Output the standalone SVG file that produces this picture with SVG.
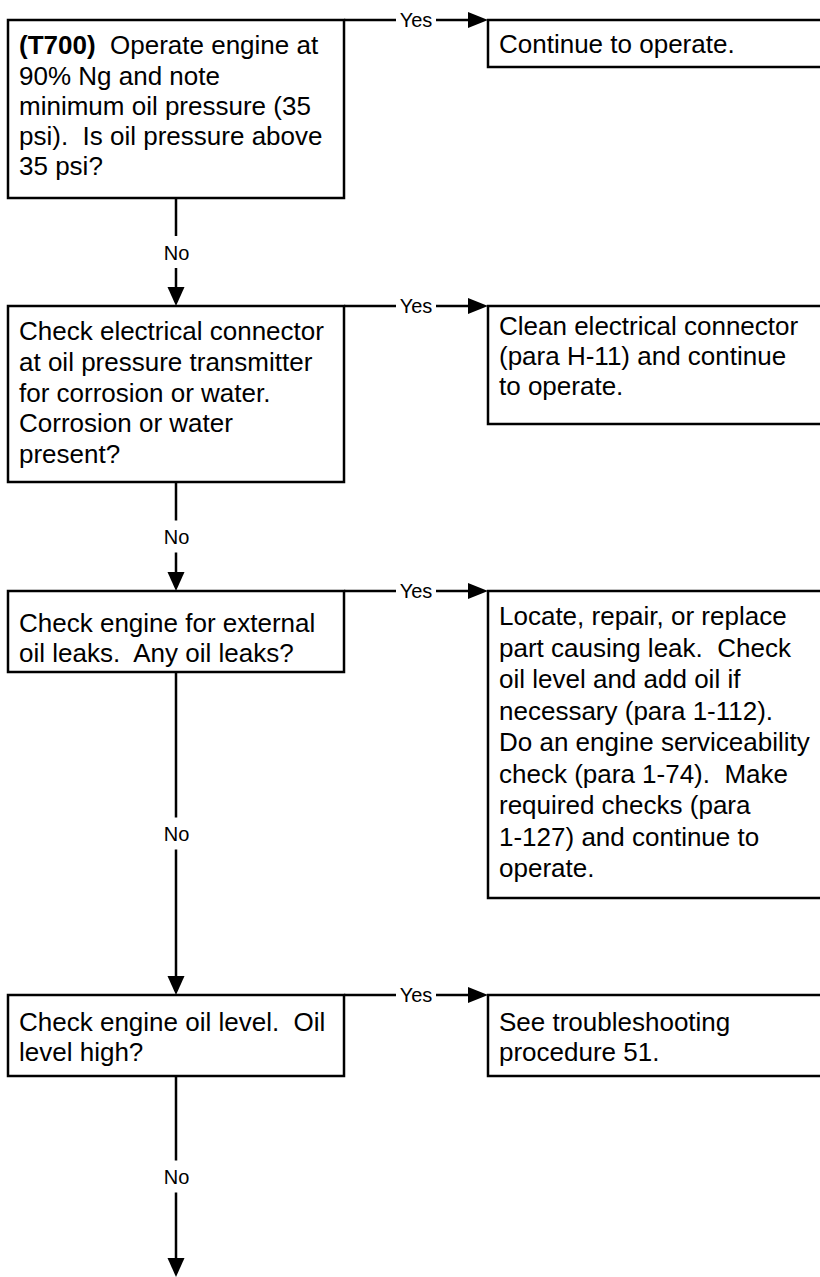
<svg xmlns="http://www.w3.org/2000/svg" width="820" height="1277" viewBox="0 0 820 1277">
  <style>
    .box { fill: #ffffff; stroke: #000000; stroke-width: 2.5; }
    .txt { font-family: "Liberation Sans", Arial, sans-serif; font-size: 26px; fill: #000000; white-space: pre; }
    .lbl { font-family: "Liberation Sans", Arial, sans-serif; font-size: 20px; fill: #000000; text-anchor: middle; }
    .ln { stroke: #000000; stroke-width: 2.5; fill: none; }
    .ah { fill: #000000; stroke: none; }
  </style>
  <rect width="820" height="1277" fill="#ffffff"/>

  <!-- connectors -->
  <g id="connectors">
    <!-- Yes branches -->
    <path class="ln" d="M344 20 H396 M436 20 H470"/>
    <polygon class="ah" points="468,12 488,20 468,28"/>
    <text class="lbl" x="416" y="27">Yes</text>

    <path class="ln" d="M344 306 H396 M436 306 H470"/>
    <polygon class="ah" points="468,298 488,306 468,314"/>
    <text class="lbl" x="416" y="313">Yes</text>

    <path class="ln" d="M344 591 H396 M436 591 H470"/>
    <polygon class="ah" points="468,583 488,591 468,599"/>
    <text class="lbl" x="416" y="598">Yes</text>

    <path class="ln" d="M344 995 H396 M436 995 H470"/>
    <polygon class="ah" points="468,987 488,995 468,1003"/>
    <text class="lbl" x="416" y="1002">Yes</text>

    <!-- No branches -->
    <path class="ln" d="M176 198 V236 M176 268 V289"/>
    <polygon class="ah" points="167.5,287 184.5,287 176,306"/>
    <text class="lbl" x="176.5" y="259.5">No</text>

    <path class="ln" d="M176 482 V520.5 M176 552.5 V574"/>
    <polygon class="ah" points="167.5,572 184.5,572 176,591"/>
    <text class="lbl" x="176.5" y="544">No</text>

    <path class="ln" d="M176 672 V817.5 M176 849.5 V978"/>
    <polygon class="ah" points="167.5,976 184.5,976 176,995"/>
    <text class="lbl" x="176.5" y="841">No</text>

    <path class="ln" d="M176 1076 V1160.5 M176 1192.5 V1260"/>
    <polygon class="ah" points="167.5,1258 184.5,1258 176,1277"/>
    <text class="lbl" x="176.5" y="1184">No</text>
  </g>

  <!-- decision: oil pressure -->
  <g id="q-oil-pressure">
    <rect class="box" x="8" y="20" width="336" height="178"/>
    <text class="txt" x="19" y="54"><tspan font-weight="bold">(T700)</tspan>  Operate engine at</text>
    <text class="txt" x="19" y="84.5">90% Ng and note</text>
    <text class="txt" x="19" y="115">minimum oil pressure (35</text>
    <text class="txt" x="19" y="145">psi).  Is oil pressure above</text>
    <text class="txt" x="19" y="175">35 psi?</text>
  </g>

  <g id="a-continue">
    <rect class="box" x="488" y="20" width="345" height="47"/>
    <text class="txt" x="499" y="53">Continue to operate.</text>
  </g>

  <!-- decision: connector corrosion -->
  <g id="q-connector">
    <rect class="box" x="8" y="306" width="336" height="176"/>
    <text class="txt" x="19" y="340">Check electrical connector</text>
    <text class="txt" x="19" y="370.75">at oil pressure transmitter</text>
    <text class="txt" x="19" y="401.5">for corrosion or water.</text>
    <text class="txt" x="19" y="432.25">Corrosion or water</text>
    <text class="txt" x="19" y="463">present?</text>
  </g>

  <g id="a-clean">
    <rect class="box" x="488" y="306" width="345" height="118"/>
    <text class="txt" x="499" y="335">Clean electrical connector</text>
    <text class="txt" x="499" y="365">(para H-11) and continue</text>
    <text class="txt" x="499" y="395">to operate.</text>
  </g>

  <!-- decision: external leaks -->
  <g id="q-leaks">
    <rect class="box" x="8" y="591" width="336" height="81"/>
    <text class="txt" x="19" y="632">Check engine for external</text>
    <text class="txt" x="19" y="662">oil leaks.  Any oil leaks?</text>
  </g>

  <g id="a-repair">
    <rect class="box" x="488" y="591" width="345" height="307"/>
    <text class="txt" x="499" y="625">Locate, repair, or replace</text>
    <text class="txt" x="499" y="656.5">part causing leak.  Check</text>
    <text class="txt" x="499" y="688">oil level and add oil if</text>
    <text class="txt" x="499" y="719.5">necessary (para 1-112).</text>
    <text class="txt" x="499" y="751">Do an engine serviceability</text>
    <text class="txt" x="499" y="782.5">check (para 1-74).  Make</text>
    <text class="txt" x="499" y="814">required checks (para</text>
    <text class="txt" x="499" y="845.5">1-127) and continue to</text>
    <text class="txt" x="499" y="877">operate.</text>
  </g>

  <!-- decision: oil level -->
  <g id="q-oil-level">
    <rect class="box" x="8" y="995" width="336" height="81"/>
    <text class="txt" x="19" y="1031">Check engine oil level.  Oil</text>
    <text class="txt" x="19" y="1061">level high?</text>
  </g>

  <g id="a-procedure">
    <rect class="box" x="488" y="995" width="345" height="81"/>
    <text class="txt" x="499" y="1031">See troubleshooting</text>
    <text class="txt" x="499" y="1061">procedure 51.</text>
  </g>
</svg>
